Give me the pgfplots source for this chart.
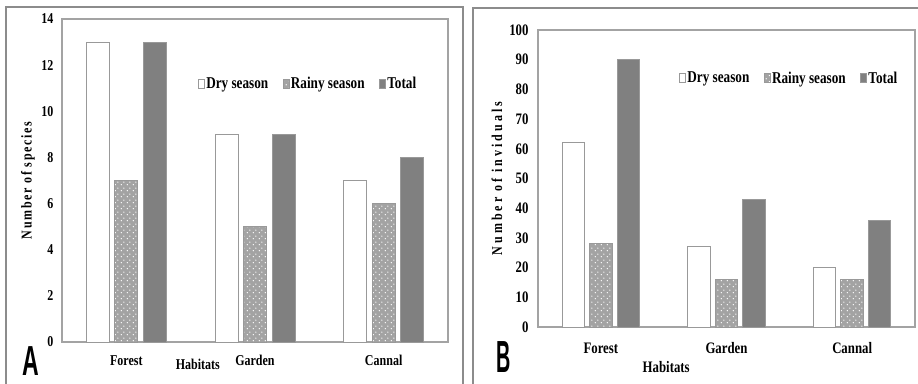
\documentclass[border=0pt]{standalone}
\usepackage{fontspec}
\setmainfont{Liberation Serif}[FakeStretch=0.8]
\newfontfamily\ylA{Liberation Serif}[FakeStretch=0.8,LetterSpace=11]
\newfontfamily\ylB{Liberation Serif}[FakeStretch=0.8,LetterSpace=20]
\newfontfamily\panelA{Liberation Sans}[FakeStretch=0.55]
\newfontfamily\panelB{Liberation Sans}[FakeStretch=0.44]
\usepackage{pgfplots}
\pgfplotsset{compat=1.18}
\usetikzlibrary{patterns}
\pgfdeclarepatternformonly{mydots}{\pgfqpoint{0pt}{0pt}}{\pgfqpoint{6pt}{6pt}}{\pgfqpoint{6pt}{6pt}}{%
  \pgfpathcircle{\pgfqpoint{1.5pt}{1.5pt}}{0.8pt}%
  \pgfpathcircle{\pgfqpoint{4.5pt}{4.5pt}}{0.8pt}%
  \pgfusepath{fill}}
\definecolor{framec}{gray}{0.55}
\definecolor{axlc}{gray}{0.64}
\definecolor{edgec}{gray}{0.6}
\definecolor{totc}{gray}{0.5}
\definecolor{rainc}{gray}{0.64}
\newcommand\fA{\fontsize{15}{18}\selectfont\bfseries}
\newcommand\fB{\fontsize{16}{19}\selectfont\bfseries}
\newcommand\fL{\fontsize{16.5}{19}\selectfont\bfseries}
\pgfplotsset{
  common/.style={
    scale only axis,
    ymin=0,
    xmin=-0.5, xmax=2.5,
    xtick={0,1,2},
    xticklabels={Forest,Garden,Cannal},
    major tick length=0pt,
    axis line style={axlc, line width=1.2pt},
    /pgf/number format/assume math mode=true,
    legend columns=3,
    legend style={draw=none, fill=none, inner sep=0pt, anchor=west,
      /tikz/every odd column/.append style={column sep=0pt},
      /tikz/every even column/.append style={column sep=13pt},
      nodes={inner xsep=1.5pt, inner ysep=1pt}},
  },
  leg/.style={legend image code/.code={\draw[##1,line width=0.7pt] (0pt,-4.5pt) rectangle (6pt,4.5pt);}},
  dry/.style={draw=edgec, fill=white, line width=1pt},
  rain/.style={draw=edgec, fill=rainc, line width=1pt, postaction={pattern=mydots, pattern color=white}},
  tot/.style={draw=edgec, fill=totc, line width=1pt},
}
\begin{document}
\begin{tikzpicture}
\path[use as bounding box] (0pt,0pt) rectangle (918pt,383pt);
\draw[framec, line width=2pt] (6pt,-5pt) -- (6pt,375.5pt) -- (463pt,375.5pt) -- (463pt,-5pt);
\draw[framec, line width=2pt] (473pt,-5pt) -- (473pt,375pt) -- (925pt,375pt);
% Panel A
\begin{axis}[common, ybar=5.5pt, leg,
  at={(62pt,41pt)}, anchor=south west,
  width=386pt, height=323pt,
  bar width=23pt,
  ymax=14, ytick={0,2,...,14},
  ticklabel style={font=\fA},
  xticklabel style={yshift=-10pt},
  yticklabel style={xshift=-5pt},
  ylabel={\ylA\fontsize{15}{18}\selectfont\bfseries Number of species},
  ylabel style={at={(axis description cs:-0.088,0.5)}, anchor=center},
  xlabel={\fA Habitats},
  xlabel style={at={(axis description cs:0.352,-0.068)}, anchor=center},
  legend style={at={(0.352,0.80)}, font=\fL},
]
\addplot[dry] coordinates {(0,13) (1,9) (2,7)};
\addplot[rain] coordinates {(0,7) (1,5) (2,6)};
\addplot[tot] coordinates {(0,13) (1,9) (2,8)};
\legend{Dry season, Rainy season, Total}
\end{axis}
% Panel B
\begin{axis}[common, ybar=5pt, leg,
  at={(538pt,56pt)}, anchor=south west,
  width=377pt, height=297pt,
  bar width=22.5pt,
  ymax=100, ytick={0,10,...,100},
  ticklabel style={font=\fB},
  xticklabel style={yshift=-12pt},
  yticklabel style={xshift=-6pt},
  ylabel={\ylB\fontsize{15}{18}\selectfont\bfseries Number of inviduals},
  ylabel style={at={(axis description cs:-0.109,0.5)}, anchor=center},
  xlabel={\fB Habitats},
  xlabel style={at={(axis description cs:0.34,-0.135)}, anchor=center},
  legend style={at={(0.374,0.838)}, font=\fL},
]
\addplot[dry] coordinates {(0,62) (1,27) (2,20)};
\addplot[rain] coordinates {(0,28) (1,16) (2,16)};
\addplot[tot] coordinates {(0,90) (1,43) (2,36)};
\legend{Dry season, Rainy season, Total}
\end{axis}
\node[font=\panelA\bfseries\fontsize{42}{42}\selectfont, anchor=base, inner sep=0pt] at (31pt,7.5pt) {A};
\node[font=\panelB\bfseries\fontsize{45}{45}\selectfont, anchor=base, inner sep=0pt] at (503.5pt,11pt) {B};
\end{tikzpicture}
\end{document}
